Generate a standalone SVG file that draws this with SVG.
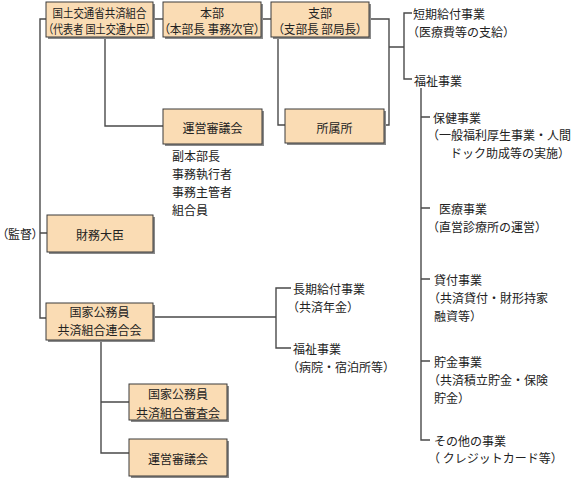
<svg xmlns="http://www.w3.org/2000/svg" width="578" height="484" viewBox="0 0 578 484">
<style>
text{font-family:"Noto Sans CJK JP","Noto Sans CJK SC",sans-serif;font-size:12px;fill:#222;dominant-baseline:central}
.bt{text-anchor:middle}
.p{font-feature-settings:"palt"}
.box{fill:#FADCB4;stroke:#3a3a3a;stroke-width:1}
.sh{fill:#8a8a8a}
.c{fill:none;stroke:#4a4a4a;stroke-width:1.4}
</style>
<rect width="578" height="484" fill="#fff"/>
<g id="connectors">
<path class="c" d="M153,19H163M261,19H271"/>
<path class="c" d="M46,19H40V318H46M40,233H47"/>
<path class="c" d="M105,37V126H163"/>
<path class="c" d="M278,37V125H285"/>
<path class="c" d="M369,19H389V125H384"/>
<path class="c" d="M389,47H404M412,13H404V79H412"/>
<path class="c" d="M421,88V440H430M421,117H430M421,208H430M421,279H430M421,361H430"/>
<path class="c" d="M153,317H276M291,288H276V348H291"/>
<path class="c" d="M101,340V453H129M101,402H129"/>
</g>
<g id="kokkosho">
<rect class="sh" x="48" y="4" width="107" height="35"/>
<rect class="box" x="46" y="2" width="107" height="35"/>
<text class="bt" x="99.5" y="12" textLength="94" lengthAdjust="spacingAndGlyphs">国土交通省共済組合</text>
<text class="bt p" x="99.5" y="28" textLength="103" lengthAdjust="spacingAndGlyphs">（代表者 国土交通大臣）</text>
</g>
<g id="honbu">
<rect class="sh" x="165" y="4" width="98" height="35"/>
<rect class="box" x="163" y="2" width="98" height="35"/>
<text class="bt" x="212" y="12">本部</text>
<text class="bt p" x="212" y="28" textLength="96" lengthAdjust="spacingAndGlyphs">（本部長 事務次官）</text>
</g>
<g id="shibu">
<rect class="sh" x="273" y="4" width="98" height="35"/>
<rect class="box" x="271" y="2" width="98" height="35"/>
<text class="bt" x="320" y="12">支部</text>
<text class="bt p" x="320" y="28" textLength="84" lengthAdjust="spacingAndGlyphs">（支部長 部局長）</text>
</g>
<g id="uneishingikai1">
<rect class="sh" x="165" y="111" width="99" height="35"/>
<rect class="box" x="163" y="109" width="99" height="35"/>
<text class="bt" x="212.5" y="127">運営審議会</text>
</g>
<g id="shozokusho">
<rect class="sh" x="287" y="111" width="99" height="34"/>
<rect class="box" x="285" y="109" width="99" height="34"/>
<text class="bt" x="334.5" y="127">所属所</text>
</g>
<g id="members">
<text x="172" y="155">副本部長</text>
<text x="172" y="173">事務執行者</text>
<text x="172" y="191">事務主管者</text>
<text x="172" y="209">組合員</text>
</g>
<g id="kantoku">
<text class="p" x="2" y="233">（監督）</text>
</g>
<g id="zaimudaijin">
<rect class="sh" x="49" y="217" width="106" height="37"/>
<rect class="box" x="47" y="215" width="106" height="37"/>
<text class="bt" x="100" y="234">財務大臣</text>
</g>
<g id="rengokai">
<rect class="sh" x="48" y="305" width="107" height="37"/>
<rect class="box" x="46" y="303" width="107" height="37"/>
<text class="bt" x="99.5" y="311">国家公務員</text>
<text class="bt" x="99.5" y="329">共済組合連合会</text>
</g>
<g id="shinsakai">
<rect class="sh" x="131" y="386" width="98" height="36"/>
<rect class="box" x="129" y="384" width="98" height="36"/>
<text class="bt" x="178" y="393">国家公務員</text>
<text class="bt" x="178" y="412">共済組合審査会</text>
</g>
<g id="uneishingikai2">
<rect class="sh" x="131" y="441" width="98" height="37"/>
<rect class="box" x="129" y="439" width="98" height="37"/>
<text class="bt" x="178" y="458">運営審議会</text>
</g>
<g id="rengokai-jigyo">
<text x="293" y="288">長期給付事業</text>
<text x="287" y="306">（共済年金）</text>
<text x="293" y="348">福祉事業</text>
<text x="287" y="366">（病院・宿泊所等）</text>
</g>
<g id="tanki">
<text x="413" y="13">短期給付事業</text>
<text x="407" y="31">（医療費等の支給）</text>
</g>
<g id="fukushi">
<text x="414" y="80">福祉事業</text>
</g>
<g id="fukushi-items">
<text x="433" y="117">保健事業</text>
<text x="427" y="134">（一般福利厚生事業・人間</text>
<text x="450" y="152">ドック助成等の実施）</text>
<text x="439" y="208">医療事業</text>
<text x="427" y="226">（直営診療所の運営）</text>
<text x="434" y="279">貸付事業</text>
<text x="428" y="297">（共済貸付・財形持家</text>
<text x="434" y="315">融資等）</text>
<text x="434" y="361">貯金事業</text>
<text x="428" y="379">（共済積立貯金・保険</text>
<text x="434" y="397">貯金）</text>
<text x="434" y="440">その他の事業</text>
<text x="428" y="457">（ クレジットカード等）</text>
</g>
</svg>
